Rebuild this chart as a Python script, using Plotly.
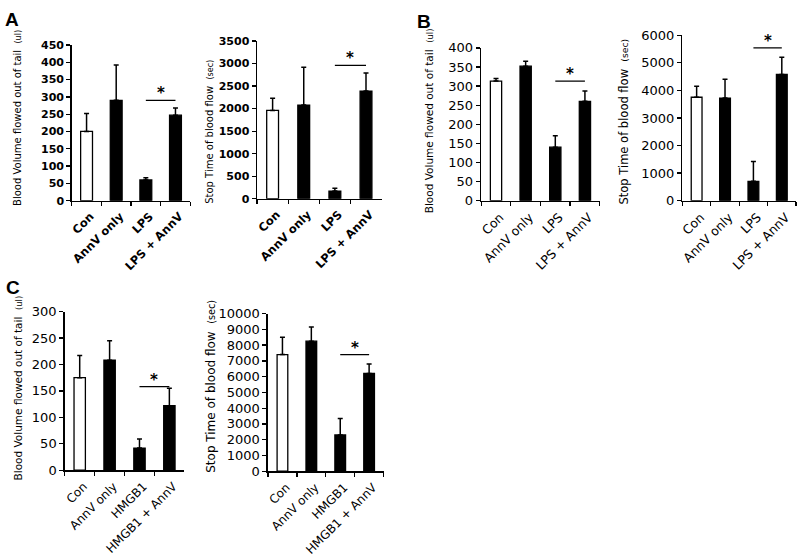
import plotly.graph_objects as go

# ---------------- data ----------------
cats_lps = ["Con", "AnnV only", "LPS", "LPS + AnnV"]
cats_hmgb = ["Con", "AnnV only", "HMGB1", "HMGB1 + AnnV"]

a_volume = [200, 290, 60, 247]
a_volume_top = [252, 392, 66, 268]
a_time = [1960, 2080, 170, 2390]
a_time_top = [2230, 2920, 230, 2790]

b_volume = [313, 352, 140, 260]
b_volume_top = [320, 365, 170, 287]
b_time = [3750, 3720, 700, 4580]
b_time_top = [4150, 4400, 1420, 5200]

c_volume = [175, 208, 42, 122]
c_volume_top = [217, 245, 59, 155]
c_time = [7400, 8250, 2300, 6200]
c_time_top = [8500, 9150, 3350, 6800]

y_max = [450, 3500, 400, 6000, 300, 10000]
y_dtick = [50, 500, 50, 1000, 50, 1000]
sig_level = [290, 2960, 313, 5540, 158, 7400]

vol_title = "Blood Volume flowed out of tail"
time_title = "Stop Time of blood flow"

# ---------------- layout geometry (pixels) ----------------
W, H = 797, 560
panels = [
    dict(c=cats_lps, v=a_volume, t=a_volume_top, x0=69, x1=188, yt=39, yb=199, ti=vol_title, u="(ul)", tx=15, ty=114, ts=10, ks=11, bold=True, bw=0.4, xs=11.5),
    dict(c=cats_lps, v=a_time, t=a_time_top, x0=255, x1=380, yt=35, yb=197, ti=time_title, u="(sec)", tx=207, ty=128, ts=10, ks=11, bold=True, bw=0.38, xs=11.5),
    dict(c=cats_lps, v=b_volume, t=b_volume_top, x0=480, x1=599, yt=42, yb=199, ti=vol_title, u="(ul)", tx=427, ty=117, ts=10.5, ks=13, bold=False, bw=0.38, xs=12.5),
    dict(c=cats_lps, v=b_time, t=b_time_top, x0=682, x1=796, yt=29, yb=199, ti=time_title, u="(sec)", tx=623, ty=118, ts=11.5, ks=13, bold=False, bw=0.38, xs=12.5),
    dict(c=cats_hmgb, v=c_volume, t=c_volume_top, x0=62, x1=182, yt=313, yb=476, ti=vol_title, u="(ul)", tx=15, ty=391, ts=10.5, ks=13, bold=False, bw=0.38, xs=12),
    dict(c=cats_hmgb, v=c_time, t=c_time_top, x0=266, x1=382, yt=315, yb=477, ti=time_title, u="(sec)", tx=208, ty=390, ts=12, ks=13, bold=False, bw=0.37, xs=12),
]

fig = go.Figure()
annotations = []
shapes = []
layout = {}

for i, p in enumerate(panels):
    n = i + 1
    xa = "x" if n == 1 else f"x{n}"
    ya = "y" if n == 1 else f"y{n}"
    err_plus = [t - v for t, v in zip(p["t"], p["v"])]
    fig.add_trace(go.Bar(
        x=p["c"], y=p["v"], xaxis=xa, yaxis=ya, width=p["bw"],
        marker=dict(color=["white", "black", "black", "black"],
                    line=dict(color="black", width=1.3)),
        error_y=dict(type="data", symmetric=False, array=err_plus,
                     arrayminus=[0] * 4, color="black", thickness=1.5, width=2.5),
        showlegend=False, hoverinfo="skip",
    ))
    weight = "bold" if p["bold"] else "normal"
    tickfont = dict(family="DejaVu Sans", size=p["ks"], color="black", weight=weight)
    xtickfont = dict(family="DejaVu Sans", size=p["xs"], color="black", weight=weight)
    layout["xaxis" if n == 1 else f"xaxis{n}"] = dict(
        domain=[p["x0"] / W, p["x1"] / W], anchor=ya, type="category",
        range=[-0.5, 3.5], tickson="boundaries", ticks="outside", ticklen=4,
        tickwidth=1.3, tickcolor="black", showline=True, linecolor="black",
        linewidth=1.5, tickangle=-45, tickfont=xtickfont, showgrid=False,
        zeroline=False, fixedrange=True, ticklabelstandoff=3, ticklabelshift=4,
    )
    layout["yaxis" if n == 1 else f"yaxis{n}"] = dict(
        domain=[1 - p["yb"] / H, 1 - p["yt"] / H], anchor=xa,
        range=[0, y_max[i]], dtick=y_dtick[i], tick0=0, ticks="outside",
        ticklen=4, tickwidth=1.3, tickcolor="black", showline=True,
        linecolor="black", linewidth=1.5, showgrid=False, zeroline=False,
        tickfont=tickfont, tickformat="d", fixedrange=True,
    )
    annotations.append(dict(
        xref="paper", yref="paper", x=p["tx"] / W, y=1 - p["ty"] / H,
        xanchor="center", yanchor="middle", textangle=-90, showarrow=False,
        text=f"{p['ti']}  <span style='font-size:{p['ts'] * 0.8:.1f}px'>{p['u']}</span>",
        font=dict(family="DejaVu Sans", size=p["ts"], color="black"),
    ))
    shapes.append(dict(type="line", xref=xa, yref=ya, x0=2, x1=3,
                       y0=sig_level[i], y1=sig_level[i],
                       line=dict(color="black", width=1.3)))
    annotations.append(dict(
        xref=xa, yref=ya, x=2.5, y=sig_level[i], yanchor="bottom",
        xanchor="center", showarrow=False, text="*", yshift=-4,
        font=dict(family="DejaVu Sans", size=15, color="black", weight="bold"),
    ))

for letter, px, py in [("A", 0, 0), ("B", 414, 2), ("C", 1, 275)]:
    annotations.append(dict(
        xref="paper", yref="paper", x=px / W, y=1 - py / H,
        xanchor="left", yanchor="top", showarrow=False, text=f"<b>{letter}</b>",
        font=dict(family="Liberation Sans", size=19, color="black"),
    ))

fig.update_layout(
    width=W, height=H, margin=dict(l=0, r=0, t=0, b=0),
    paper_bgcolor="white", plot_bgcolor="white",
    annotations=annotations, shapes=shapes, bargap=0.6, **layout,
)

fig.write_html(
    "out.html",
    config={"displayModeBar": False, "staticPlot": True},
    post_script="document.body.style.margin='0px';document.body.style.overflow='hidden';",
)
